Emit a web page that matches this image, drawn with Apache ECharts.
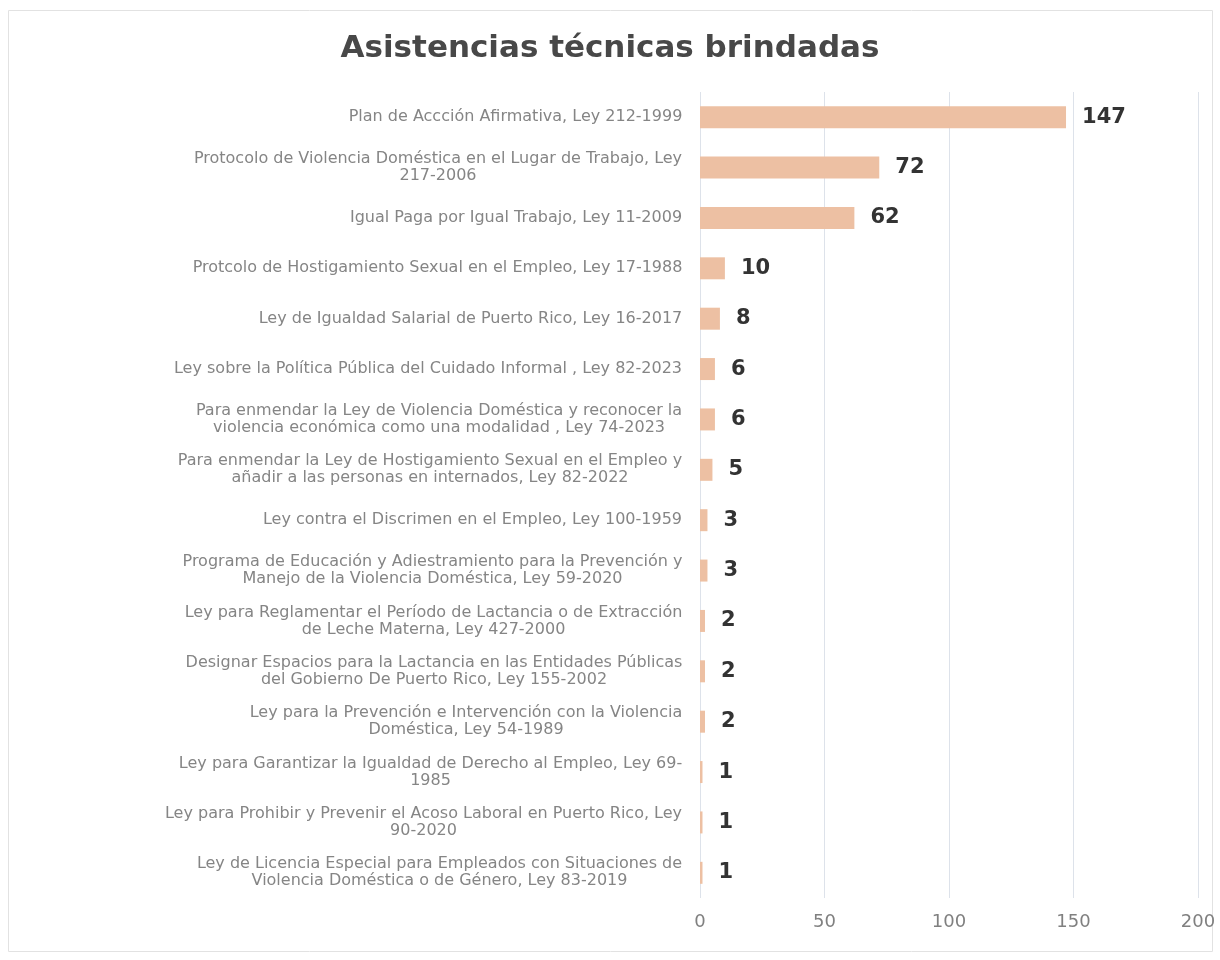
<!DOCTYPE html>
<html>
<head>
<meta charset="utf-8">
<script src="https://cdn.jsdelivr.net/npm/echarts@6/dist/echarts.min.js"></script>
<style>
    html, body { margin: 0; padding: 0; background: #fff; }
    #chart { width: 1220px; height: 960px; }
</style>
</head>
<body>
<div id="chart"></div>
<script>
// categorias (de arriba hacia abajo)
var categorias = [
    'Plan de Accción Afirmativa, Ley 212-1999',
    'Protocolo de Violencia Doméstica en el Lugar de Trabajo, Ley\n217-2006',
    'Igual Paga por Igual Trabajo, Ley 11-2009',
    'Protcolo de Hostigamiento Sexual en el Empleo, Ley 17-1988',
    'Ley de Igualdad Salarial de Puerto Rico, Ley 16-2017',
    'Ley sobre la Política Pública del Cuidado Informal , Ley 82-2023',
    'Para enmendar la Ley de Violencia Doméstica y reconocer la\nviolencia económica como una modalidad , Ley 74-2023',
    'Para enmendar la Ley de Hostigamiento Sexual en el Empleo y\nañadir a las personas en internados, Ley 82-2022',
    'Ley contra el Discrimen en el Empleo, Ley 100-1959',
    'Programa de Educación y Adiestramiento para la Prevención y\nManejo de la Violencia Doméstica, Ley 59-2020',
    'Ley para Reglamentar el Período de Lactancia o de Extracción\nde Leche Materna, Ley 427-2000',
    'Designar Espacios para la Lactancia en las Entidades Públicas\ndel Gobierno De Puerto Rico, Ley 155-2002',
    'Ley para la Prevención e Intervención con la Violencia\nDoméstica, Ley 54-1989',
    'Ley para Garantizar la Igualdad de Derecho al Empleo, Ley 69-\n1985',
    'Ley para Prohibir y Prevenir el Acoso Laboral en Puerto Rico, Ley\n90-2020',
    'Ley de Licencia Especial para Empleados con Situaciones de\nViolencia Doméstica o de Género, Ley 83-2019'
];
var asistencias = [147, 72, 62, 10, 8, 6, 6, 5, 3, 3, 2, 2, 2, 1, 1, 1];
var ejeX = [0, 50, 100, 150, 200];

var fuente = 'DejaVu Sans';
var tamEtiqueta = 16;

// medir el ancho de cada etiqueta para centrar las lineas dentro del bloque
var ctx = document.createElement('canvas').getContext('2d');
ctx.font = tamEtiqueta + 'px "' + fuente + '"';
var ricos = {};
categorias.forEach(function (c, i) {
    var w = 0;
    c.split('\n').forEach(function (l) {
        w = Math.max(w, ctx.measureText(l).width);
    });
    ricos['c' + i] = {
        width: Math.ceil(w) + 1,
        align: 'center',
        fontFamily: fuente,
        fontSize: tamEtiqueta,
        lineHeight: 17,
        color: '#858585'
    };
});

var oChart = echarts.init(document.getElementById('chart'));

var opt = {
    backgroundColor: '#fff',
    title: {
        text: 'Asistencias técnicas brindadas',
        left: 'center',
        top: 28,
        textStyle: {
            fontFamily: fuente,
            fontSize: 31,
            fontWeight: 'bold',
            color: '#484848'
        }
    },
    graphic: [{
        type: 'rect',
        shape: { x: 8.5, y: 10.5, width: 1204, height: 941 },
        style: { fill: 'none', stroke: '#e2e2e2', lineWidth: 1 },
        silent: true
    }],
    grid: {
        left: 700,
        right: 22,
        top: 92,
        bottom: 62
    },
    xAxis: {
        type: 'value',
        min: ejeX[0],
        max: ejeX[ejeX.length - 1],
        interval: 50,
        axisLine: { show: false },
        axisTick: { show: false },
        splitLine: {
            show: true,
            lineStyle: { color: '#dde2ea', width: 1 }
        },
        axisLabel: {
            margin: 15,
            fontFamily: fuente,
            fontSize: 18,
            color: '#808080'
        }
    },
    yAxis: {
        type: 'category',
        inverse: true,
        data: categorias,
        axisLine: { show: false },
        axisTick: { show: false },
        axisLabel: {
            margin: 17,
            align: 'right',
            formatter: function (v, i) {
                return v.split('\n').map(function (l) {
                    return '{c' + i + '|' + l + '}';
                }).join('\n');
            },
            rich: ricos
        }
    },
    series: [{
        name: 'Asistencias',
        type: 'bar',
        barWidth: 22,
        itemStyle: { color: '#edc0a3' },
        label: {
            show: true,
            position: 'right',
            distance: 16,
            fontFamily: fuente,
            fontSize: 21,
            fontWeight: 'bold',
            color: '#333'
        },
        data: asistencias
    }]
};

oChart.setOption(opt);
</script>
</body>
</html>
